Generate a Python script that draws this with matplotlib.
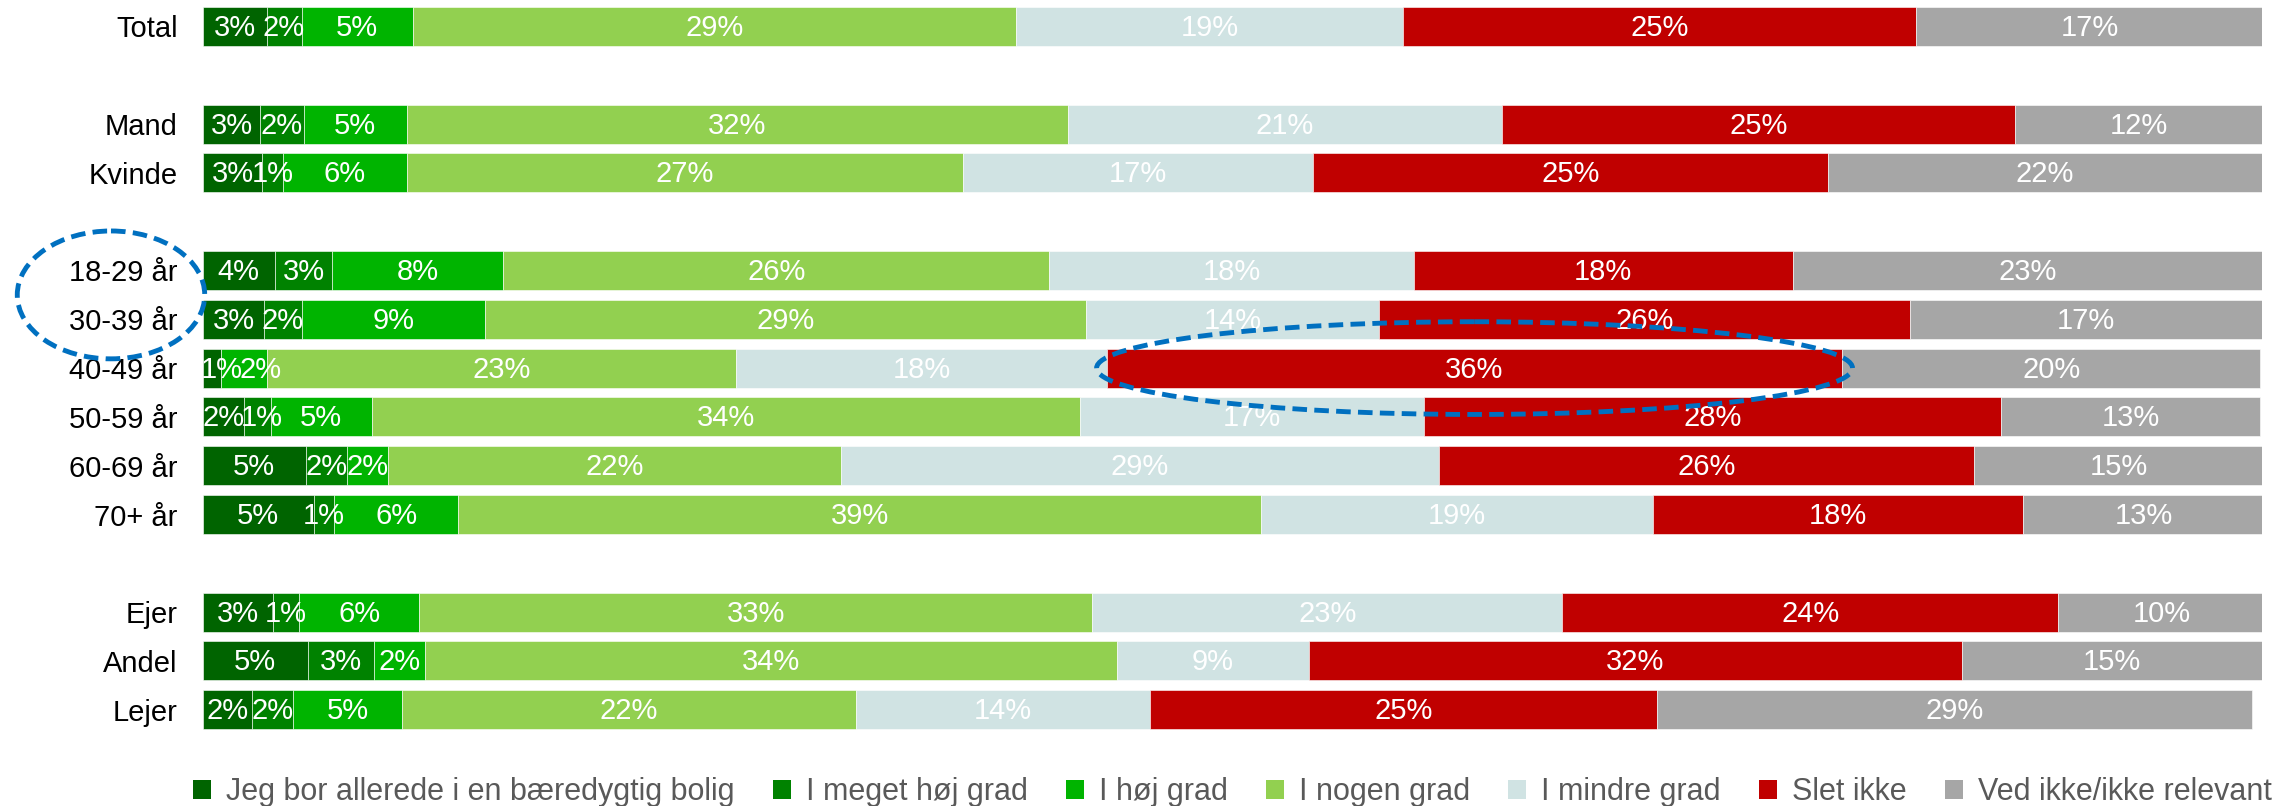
import matplotlib
matplotlib.use("Agg")
import matplotlib.pyplot as plt
from matplotlib.patches import Patch, Ellipse
import numpy as np

plt.rcParams["font.family"] = ["Liberation Sans", "DejaVu Sans"]

rows = ["Total", "Mand", "Kvinde", "18-29 år", "30-39 år", "40-49 år",
        "50-59 år", "60-69 år", "70+ år", "Ejer", "Andel", "Lejer"]
ypos = [0, 2, 3, 5, 6, 7, 8, 9, 10, 12, 13, 14]

series = ["Jeg bor allerede i en bæredygtig bolig", "I meget høj grad", "I høj grad",
          "I nogen grad", "I mindre grad", "Slet ikke", "Ved ikke/ikke relevant"]
colors = ["#006400", "#008200", "#00B400", "#92D050", "#D0E3E3", "#C00000", "#A6A6A6"]

# segment widths (share of respondents, %)
jeg_bor = [3.1, 2.8, 2.9, 3.5, 3.0, 0.9, 2.0, 5.0, 5.4, 3.4, 5.1, 2.4]
meget_hoj = [1.7, 2.1, 1.0, 2.8, 1.8, 0.0, 1.3, 2.0, 1.0, 1.3, 3.2, 2.0]
hoj = [5.4, 5.0, 6.0, 8.3, 8.9, 2.2, 4.9, 2.0, 6.0, 5.8, 2.5, 5.3]
nogen = [29.3, 32.1, 27.0, 26.5, 29.2, 22.8, 34.4, 22.0, 39.0, 32.7, 33.6, 22.0]
mindre = [18.8, 21.1, 17.0, 17.7, 14.2, 18.0, 16.7, 29.0, 19.0, 22.8, 9.3, 14.3]
slet = [24.9, 24.9, 25.0, 18.4, 25.8, 35.7, 28.0, 26.0, 18.0, 24.1, 31.7, 24.6]
ved_ikke = [16.8, 12.0, 21.1, 22.8, 17.1, 20.3, 12.6, 14.1, 11.7, 10.0, 14.6, 28.9]

# printed labels (as shown on the chart)
lab_jeg_bor = [3, 3, 3, 4, 3, 1, 2, 5, 5, 3, 5, 2]
lab_meget_hoj = [2, 2, 1, 3, 2, None, 1, 2, 1, 1, 3, 2]
lab_hoj = [5, 5, 6, 8, 9, 2, 5, 2, 6, 6, 2, 5]
lab_nogen = [29, 32, 27, 26, 29, 23, 34, 22, 39, 33, 34, 22]
lab_mindre = [19, 21, 17, 18, 14, 18, 17, 29, 19, 23, 9, 14]
lab_slet = [25, 25, 25, 18, 26, 36, 28, 26, 18, 24, 32, 25]
lab_ved_ikke = [17, 12, 22, 23, 17, 20, 13, 15, 13, 10, 15, 29]

values = [jeg_bor, meget_hoj, hoj, nogen, mindre, slet, ved_ikke]
labels = [lab_jeg_bor, lab_meget_hoj, lab_hoj, lab_nogen, lab_mindre, lab_slet, lab_ved_ikke]

fig = plt.figure(figsize=(22.95, 8.06), dpi=100)
ax = fig.add_axes([0.0883, 0.0892, 0.8975, 0.9082])

row_texts = [[] for _ in rows]
left = np.zeros(len(rows))
for vals, labs, col, name in zip(values, labels, colors, series):
    vals = np.array(vals)
    ax.barh(ypos, vals, left=left, height=0.8, color=col, edgecolor="white",
            linewidth=0.4, label=name)
    for i, (y, l, v, t) in enumerate(zip(ypos, left, vals, labs)):
        if t is None:
            continue
        txt = ax.text(l + v / 2, y + 0.03, f"{t}%", ha="center", va="center",
                      color="white", fontsize=21)
        row_texts[i].append(txt)
    left += vals

# dashed highlight ellipses
i40 = rows.index("40-49 år")
start_slet = sum(v[i40] for v in values[:5])
ax.add_patch(Ellipse((start_slet + slet[i40] / 2, ypos[i40]), slet[i40] + 1.0, 1.9,
                     fill=False, edgecolor="#0070C0", linewidth=3.5,
                     linestyle=(0, (3, 1.5)), clip_on=False, zorder=5))
ax.add_patch(Ellipse((-4.45, (ypos[3] + ypos[4]) / 2), 9.1, 2.62,
                     fill=False, edgecolor="#0070C0", linewidth=3.5,
                     linestyle=(0, (3, 1.5)), clip_on=False, zorder=5))

ax.set_xlim(0, 100)
ax.set_ylim(14.5, -0.5)
ax.set_yticks(ypos)
ax.set_yticklabels(rows, fontsize=21)
ax.tick_params(axis="y", length=0, pad=18)
ax.set_xticks([])
for s in ax.spines.values():
    s.set_visible(False)

handles = [Patch(facecolor=c, edgecolor="none") for c in colors]
leg = ax.legend(handles, series, loc="center", bbox_to_anchor=(0.5, -0.079),
                ncol=7, frameon=False, fontsize=22, handlelength=0.58,
                handleheight=0.58, handletextpad=0.5, columnspacing=1.25)
for t in leg.get_texts():
    t.set_color("#595959")

# keep small labels inside the bar and side by side instead of on top of each other
fig.canvas.draw()
px_per_unit = ax.transData.transform([[1, 0]])[0][0] - ax.transData.transform([[0, 0]])[0][0]
for texts in row_texts:
    prev_right = 0.0
    for txt in texts:
        w = txt.get_window_extent().width / px_per_unit * 0.92
        x, y = txt.get_position()
        x = max(x, prev_right + w / 2)
        txt.set_position((x, y))
        prev_right = x + w / 2

fig.savefig("out.png", dpi=100)
